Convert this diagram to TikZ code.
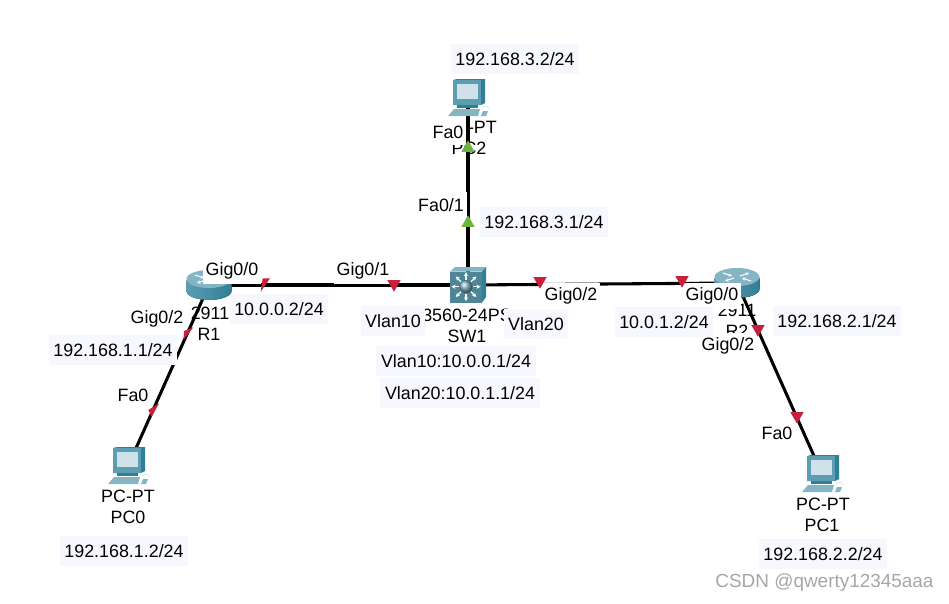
\documentclass[tikz,border=0pt]{standalone}
\usepackage{fontspec}
\setmainfont{Liberation Sans}
\usepackage{xcolor}
\usetikzlibrary{arrows.meta, shapes.geometric}
\definecolor{ipfill}{HTML}{F6F8FD}
\definecolor{markred}{HTML}{C8203A}
\definecolor{markgreen}{HTML}{6CB33F}
\definecolor{iconlight}{HTML}{CFE2EA}
\definecolor{iconmid}{HTML}{5C9DB2}
\definecolor{icondark}{HTML}{2F7F96}
\definecolor{iconpale}{HTML}{85B4C4}
\tikzset{
  devlabel/.style={inner sep=0pt},
  portlabel/.style={fill=white, inner xsep=2pt, inner ysep=0pt, minimum height=19.5pt},
  iplabel/.style={fill=ipfill, inner xsep=3.4pt, inner ysep=0pt, minimum height=22.5pt},
  link/.style={line width=2.3pt},
  redmark/.style={regular polygon, regular polygon sides=3, fill=markred, inner sep=0pt, minimum size=11.5pt, shape border rotate=180},
  greenmark/.style={regular polygon, regular polygon sides=3, fill=markgreen, inner sep=0pt, minimum size=11.5pt},
  pcicon/.pic={
    \fill[icondark] (-15,-18) -- (-11,-19) -- (17,-19) -- (17,5) -- (13,7) -- (-15,7) -- cycle;
    \fill[iconmid] (-15,-18) rectangle (13,7);
    \fill[iconlight] (-11,-14) rectangle (10,1);
    \fill[icondark] (-11,7) rectangle (10,10);
    \fill[iconpale] (-20,18) -- (-14,11) -- (12,11) -- (10,18) -- cycle;
    \fill[iconpale] (13,18) -- (15,13) -- (20,13) -- (18,18) -- cycle;
    \draw[white!70!iconpale, line width=0.6pt] (14,10) .. controls (17,7) and (21,8) .. (21,11);
  },
  routericon/.pic={
    \fill[left color=iconmid, middle color=iconlight, right color=icondark] (-22.5,-5) -- (-22.5,6) arc[start angle=180, end angle=0, x radius=22.5, y radius=9] -- (22.5,-5) -- cycle;
    \fill[iconpale] (0,-6) ellipse [x radius=22.5, y radius=9];
    \draw[white, line width=0.8pt, -{Stealth[length=2.5pt,width=2.5pt]}] (-14,-10) -- (-5,-7);
    \draw[white, line width=0.8pt, -{Stealth[length=2.5pt,width=2.5pt]}] (14,-2) -- (5,-5);
    \draw[white, line width=0.8pt, -{Stealth[length=2.5pt,width=2.5pt]}] (-3,-5) -- (-12,-2);
    \draw[white, line width=0.8pt, -{Stealth[length=2.5pt,width=2.5pt]}] (3,-7) -- (12,-10);
  },
  switchicon/.pic={
    \fill[iconpale] (-18,-13.5) -- (-13,-18) -- (18,-18) -- (14,-13.5) -- cycle;
    \fill[icondark] (14,-13.5) -- (18,-18) -- (18,12) -- (14,17.5) -- cycle;
    \fill[iconmid!85!black] (-18,-13.5) rectangle (14,17.5);
    \foreach \a in {0,45,...,315}
      \draw[white, line width=0.9pt, -{Stealth[length=3pt,width=3.2pt]}] (-2,1.7) ++(\a:7) -- ++(\a:7.5);
    \shade[ball color=iconpale] (-2,1.7) circle (6.5);
  }
}

\begin{document}
\begin{tikzpicture}[x=0.75pt, y=-0.75pt, every node/.style={font=\fontsize{13.4}{16}\selectfont}]
\useasboundingbox (0,0) rectangle (949,603);
\coordinate (pc2) at (468,98);
\coordinate (sw1) at (468,285);
\coordinate (r1) at (209,285);
\coordinate (r2) at (737,283);
\coordinate (pc0) at (128,466);
\coordinate (pc1) at (822,474);
% device names
\node[devlabel] (pc2type) at (470,127) {PC-PT};
\node[devlabel] (pc2name) at (469,148) {PC2};
\node[devlabel] (sw1type) at (467,315) {3560-24PS};
\node[devlabel] (sw1name) at (467,336) {SW1};
\node[devlabel] (r1type) at (210,313) {2911};
\node[devlabel] (r1name) at (209,334) {R1};
\node[devlabel] (r2type) at (737,310) {2911};
\node[devlabel] (r2name) at (737,331) {R2};
\node[devlabel] (pc0type) at (128,496) {PC-PT};
\node[devlabel] (pc0name) at (128,517) {PC0};
\node[devlabel] (pc1type) at (823,504) {PC-PT};
\node[devlabel] (pc1name) at (822,525) {PC1};
% links
\draw[link] (pc2) -- (sw1);
\draw[link] (r1) -- (sw1);
\draw[link] (sw1) -- (r2);
\draw[link] (r1) -- (pc0);
\draw[link] (r2) -- (pc1);
% devices
\pic at (pc2) {pcicon};
\pic at (pc0) {pcicon};
\pic at (pc1) {pcicon};
\pic at (r1) {routericon};
\pic at (r2) {routericon};
\pic at (sw1) {switchicon};
% port names
\node[portlabel] (p1) at (232,270.5) {Gig0/0};
\node[portlabel] (p2) at (363,270.5) {Gig0/1};
\node[portlabel] (p3) at (571,296) {Gig0/2};
\node[portlabel] (p4) at (712,296) {Gig0/0};
\node[portlabel] (p5) at (728,346) {Gig0/2};
\node[portlabel] (p6) at (157,319) {Gig0/2};
\node[portlabel] (p7) at (133,395) {Fa0};
\node[portlabel] (p8) at (777,433) {Fa0};
\node[portlabel] (p9) at (448,132) {Fa0};
\node[portlabel] (p10) at (441,205) {Fa0/1};
% link state marks
\node[greenmark] (m1) at (468,148) {};
\node[greenmark] (m2) at (468,223) {};
\fill[markred] (260.7,291.7) -- (262.7,278.3) -- (270,278.3) -- cycle;
\node[redmark] (m4) at (394,284) {};
\node[redmark] (m5) at (540,281) {};
\node[redmark] (m6) at (682,280) {};
\fill[markred] (183.5,340) -- (184,331) -- (193.3,327.3) -- cycle;
\fill[markred] (151.7,416.7) -- (148.3,410) -- (159,403.3) -- cycle;
\node[redmark] (m9) at (758,329) {};
\node[redmark] (m10) at (797,416) {};
% addresses
\node[iplabel] (ip1) at (515,59) {192.168.3.2/24};
\node[iplabel] (ip2) at (544,222) {192.168.3.1/24};
\node[iplabel] (ip3) at (279,309) {10.0.0.2/24};
\node[iplabel] (ip4) at (113,350) {192.168.1.1/24};
\node[iplabel] (ip5) at (124,551) {192.168.1.2/24};
\node[iplabel] (ip6) at (823,554) {192.168.2.2/24};
\node[iplabel] (ip7) at (837,321) {192.168.2.1/24};
\node[iplabel] (ip8) at (664,322) {10.0.1.2/24};
\node[iplabel] (ip9) at (393,321) {Vlan10};
\node[iplabel] (ip10) at (536,324) {Vlan20};
\node[iplabel] (ip11) at (456,361) {Vlan10:10.0.0.1/24};
\node[iplabel] (ip12) at (460,393) {Vlan20:10.0.1.1/24};
\node[text=black!35, font=\fontsize{14.2}{17}\selectfont] (mark) at (824.5,583) {CSDN @qwerty12345aaa};
\end{tikzpicture}
\end{document}
